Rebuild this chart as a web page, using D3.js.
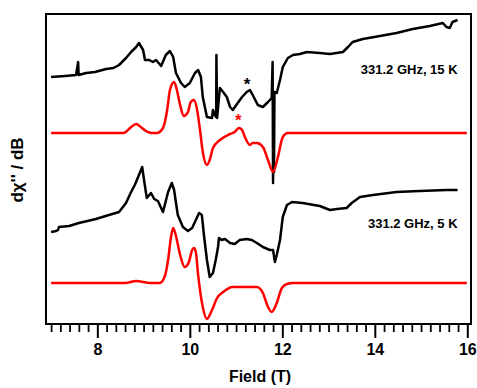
<!DOCTYPE html>
<html>
<head>
<meta charset="utf-8">
<script src="https://cdn.jsdelivr.net/npm/d3@7"></script>
<style>
  body { margin: 0; background: #fff; }
  text { font-family: "Liberation Sans", Arial, Helvetica, sans-serif; font-weight: bold; }
</style>
</head>
<body>
<div id="chart"></div>
<script>
// field in tesla, signal in arbitrary units relative to each trace's baseline
const exp15K = [
  [7.00, 0], [7.30, 1], [7.54, 2], [7.585, 15], [7.595, 2], [7.76, 4], [7.95, 5], [8.19, 8],
  [8.35, 9], [8.47, 12], [8.62, 19], [8.73, 25], [8.84, 30], [8.90, 34], [8.99, 27],
  [9.03, 17], [9.12, 17], [9.20, 15], [9.27, 17], [9.38, 11], [9.48, 22], [9.57, 26],
  [9.64, 20], [9.70, 4], [9.81, -6], [9.89, -10], [10.00, -6], [10.11, 4], [10.18, 7],
  [10.24, 0], [10.28, -20], [10.37, -40], [10.48, -41], [10.50, -33], [10.54, -38],
  [10.57, -40], [10.575, 22], [10.59, -41], [10.65, -11], [10.72, -15], [10.80, -20],
  [10.87, -30], [10.93, -33], [11.02, -27], [11.13, -20], [11.23, -15], [11.30, -13],
  [11.36, -18], [11.47, -28], [11.58, -30], [11.69, -25], [11.77, -21], [11.79, 15],
  [11.80, -106], [11.81, -20], [11.82, -95], [11.83, -15], [11.88, -16], [11.95, -3],
  [12.01, 10], [12.12, 19], [12.23, 22], [12.38, 23], [12.53, 25], [12.81, 24],
  [13.03, 23], [13.31, 25], [13.42, 30], [13.52, 35], [13.74, 38], [14.11, 41],
  [14.47, 44], [14.82, 48], [15.19, 51], [15.47, 54], [15.55, 50], [15.62, 49],
  [15.68, 55], [15.79, 57]
];
const sim15K = [
  [7.00, 0], [8.56, 0], [8.64, 2], [8.73, 6], [8.84, 9], [8.94, 6], [9.05, 2], [9.18, 0],
  [9.29, 0], [9.42, 5], [9.51, 23], [9.57, 43], [9.66, 51], [9.72, 43], [9.79, 28],
  [9.87, 17], [9.96, 21], [10.02, 31], [10.09, 33], [10.15, 25], [10.22, 3], [10.28, -19],
  [10.37, -32], [10.43, -27], [10.50, -15], [10.65, -7], [10.87, -1], [10.97, 1],
  [11.06, 5], [11.13, 3], [11.19, -4], [11.30, -12], [11.36, -10], [11.45, -10],
  [11.58, -14], [11.69, -27], [11.80, -39], [11.90, -25], [12.01, -4], [12.12, 0],
  [12.30, 0], [15.99, 0]
];
const exp5K = [
  [7.00, 0], [7.11, 1], [7.15, 2], [7.17, 5], [7.39, 6], [7.60, 9], [7.97, 13], [8.25, 17],
  [8.47, 20], [8.62, 29], [8.73, 40], [8.81, 47], [8.90, 57], [8.97, 65], [9.01, 52],
  [9.07, 34], [9.16, 39], [9.23, 33], [9.31, 31], [9.42, 20], [9.53, 40], [9.61, 49],
  [9.66, 42], [9.74, 17], [9.85, 5], [9.96, 1], [10.05, 4], [10.13, 12], [10.20, 19],
  [10.26, 17], [10.31, -5], [10.37, -28], [10.43, -45], [10.50, -41], [10.56, -28],
  [10.61, -15], [10.63, -6], [10.69, -8], [10.76, -7], [10.87, -11], [10.97, -12],
  [11.08, -8], [11.23, -7], [11.34, -8], [11.45, -11], [11.58, -15], [11.73, -18],
  [11.80, -18], [11.84, -30], [11.88, -23], [11.95, -8], [12.01, 15], [12.10, 27],
  [12.21, 30], [12.44, 29], [12.81, 26], [13.03, 22], [13.18, 23], [13.39, 24],
  [13.50, 29], [13.68, 35], [13.96, 37], [14.47, 40], [14.97, 41], [15.55, 42], [15.79, 42]
];
const sim5K = [
  [7.00, 0], [8.60, 0], [8.84, 2], [9.14, 0], [9.35, 0], [9.46, 7], [9.53, 23], [9.59, 45],
  [9.64, 55], [9.70, 47], [9.79, 28], [9.89, 16], [9.98, 21], [10.05, 33], [10.09, 35],
  [10.13, 31], [10.18, 8], [10.28, -24], [10.37, -36], [10.48, -27], [10.59, -15],
  [10.72, -9], [10.93, -4], [11.23, -4], [11.45, -4], [11.58, -10], [11.69, -24],
  [11.77, -29], [11.88, -20], [11.99, -5], [12.10, -1], [12.23, 0], [15.99, 0]
];
const traceNames = ["exp15K", "sim15K", "exp5K", "sim5K"];
const traceOffsets = [247, 191, 92, 41];
const traceColors = ["#000", "#f00", "#000", "#f00"];
const xTickValues = [8, 10, 12, 14, 16];
const labels = ["331.2 GHz, 15 K", "331.2 GHz, 5 K"];

const width = 477, height = 388;
const margin = { top: 14, right: 6, bottom: 64, left: 46 };

const svg = d3.select("#chart").append("svg")
  .attr("width", width)
  .attr("height", height);

const x = d3.scaleLinear()
  .domain([6.89, 16.08])
  .range([margin.left, width - margin.right]);

const y = d3.scaleLinear()
  .domain([0, 310])
  .range([height - margin.bottom, margin.top]);

const traces = [exp15K, sim15K, exp5K, sim5K];

traces.forEach((data, i) => {
  const line = d3.line()
    .x((d) => x(d[0]))
    .y((d) => y(d[1] + traceOffsets[i]))
    .curve(traceColors[i] === "#f00" ? d3.curveMonotoneX : d3.curveLinear);
  svg.append("path")
    .datum(data)
    .attr("class", traceNames[i])
    .attr("fill", "none")
    .attr("stroke", traceColors[i])
    .attr("stroke-width", 2.5)
    .attr("stroke-linejoin", "round")
    .attr("d", line);
});

// frame
svg.append("rect")
  .attr("x", margin.left)
  .attr("y", margin.top)
  .attr("width", width - margin.right - margin.left)
  .attr("height", height - margin.bottom - margin.top)
  .attr("fill", "none")
  .attr("stroke", "#000")
  .attr("stroke-width", 2);

// x axis: minor ticks every 0.2 T, labelled major ticks every 2 T
const minorTicks = d3.range(7, 16.01, 0.2).filter((v) => Math.abs(v / 2 - Math.round(v / 2)) > 0.01);
const bottom = svg.append("g")
  .attr("transform", `translate(0, ${height - margin.bottom})`);

bottom.append("g")
  .call(d3.axisBottom(x).tickValues(minorTicks).tickSize(8).tickFormat(""))
  .call((g) => g.select(".domain").remove())
  .selectAll("line").attr("stroke-width", 1.8);

bottom.append("g")
  .call(d3.axisBottom(x).tickValues(xTickValues).tickSize(14).tickPadding(6).tickFormat(d3.format("d")))
  .call((g) => g.select(".domain").remove())
  .call((g) => g.selectAll("line").attr("stroke-width", 2))
  .selectAll("text")
  .attr("font-size", 16)
  .attr("fill", "#000");

svg.append("text")
  .attr("x", 260)
  .attr("y", 382)
  .attr("text-anchor", "middle")
  .attr("font-size", 16)
  .text("Field (T)");

svg.append("text")
  .attr("transform", "translate(23, 170) rotate(-90)")
  .attr("text-anchor", "middle")
  .attr("font-size", 17)
  .text("dχ'' / dB");

svg.append("text")
  .attr("x", x(15.79))
  .attr("y", y(250))
  .attr("text-anchor", "end")
  .attr("font-size", 13)
  .text(labels[0]);

svg.append("text")
  .attr("x", x(15.79))
  .attr("y", y(96))
  .attr("text-anchor", "end")
  .attr("font-size", 13)
  .text(labels[1]);

// asterisks marking the feature near 11.1 T
svg.append("text")
  .attr("x", x(11.24))
  .attr("y", y(234))
  .attr("text-anchor", "middle")
  .attr("font-size", 17)
  .attr("fill", "#000")
  .text("*");

svg.append("text")
  .attr("x", x(11.05))
  .attr("y", y(198))
  .attr("text-anchor", "middle")
  .attr("font-size", 17)
  .attr("fill", "#f00")
  .text("*");
</script>
</body>
</html>
